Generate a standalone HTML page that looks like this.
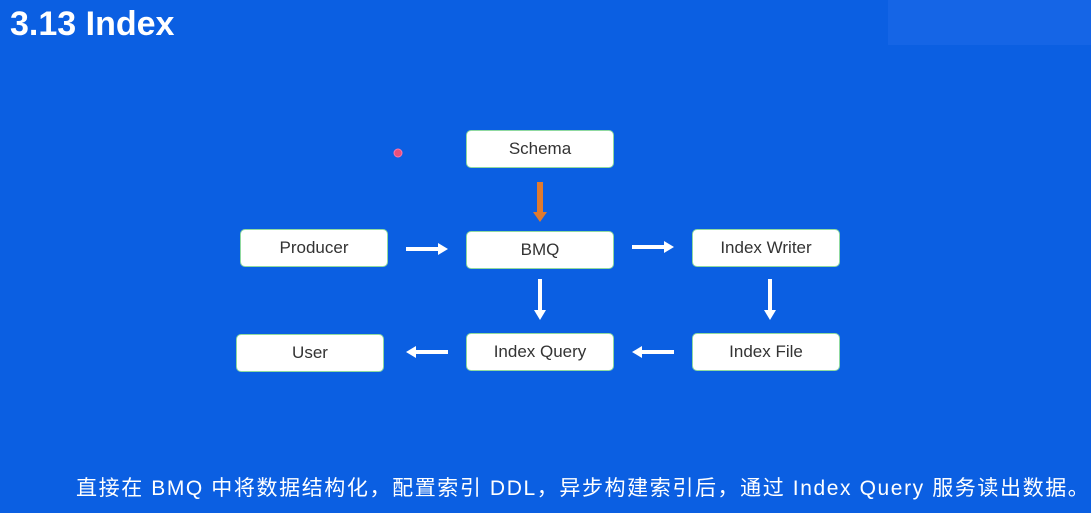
<!DOCTYPE html>
<html><head><meta charset="utf-8"><style>
body{margin:0;width:1091px;height:513px;overflow:hidden;background:#0b5fe2;position:relative;font-family:"Liberation Sans","Noto Sans CJK SC",sans-serif}
.t{position:absolute;left:10px;top:5px;color:#fff;font-size:34px;font-weight:bold}
.b{position:absolute;width:148px;height:38px;background:#fff;border:1px solid #8fd9a0;border-radius:5px;box-sizing:border-box;display:flex;align-items:center;justify-content:center;color:#333;font-size:17px}
.cap{position:absolute;left:76px;top:472px;color:#fff;font-size:21px;letter-spacing:1.6px;white-space:nowrap}
.tr{position:absolute;left:888px;top:0;width:203px;height:45px;background:#1565e6}
svg{position:absolute;left:0;top:0}
</style></head><body>
<div class="tr"></div>
<div class="t">3.13 Index</div>
<div class="b" style="left:466px;top:130px">Schema</div>
<div class="b" style="left:240px;top:229px">Producer</div>
<div class="b" style="left:466px;top:231px">BMQ</div>
<div class="b" style="left:692px;top:229px">Index Writer</div>
<div class="b" style="left:236px;top:334px">User</div>
<div class="b" style="left:466px;top:333px">Index Query</div>
<div class="b" style="left:692px;top:333px">Index File</div>
<svg width="1091" height="513">
<circle cx="398" cy="153" r="4" fill="#e9507a" stroke="#f7a" stroke-width="1"/>
<g fill="#e07a2e"><rect x="537" y="182" width="6" height="32"/><polygon points="533,212 547,212 540,222"/></g>
<g fill="#fff">
<rect x="406" y="247" width="34" height="4"/><polygon points="438,243 448,249 438,255"/>
<rect x="632" y="245" width="34" height="4"/><polygon points="664,241 674,247 664,253"/>
<rect x="538" y="279" width="4" height="33"/><polygon points="534,310 546,310 540,320"/>
<rect x="768" y="279" width="4" height="33"/><polygon points="764,310 776,310 770,320"/>
<rect x="640" y="350" width="34" height="4"/><polygon points="642,346 632,352 642,358"/>
<rect x="414" y="350" width="34" height="4"/><polygon points="416,346 406,352 416,358"/>
</g>
</svg>
<div class="cap">直接在 BMQ 中将数据结构化，配置索引 DDL，异步构建索引后，通过 Index Query 服务读出数据。</div>
</body></html>
